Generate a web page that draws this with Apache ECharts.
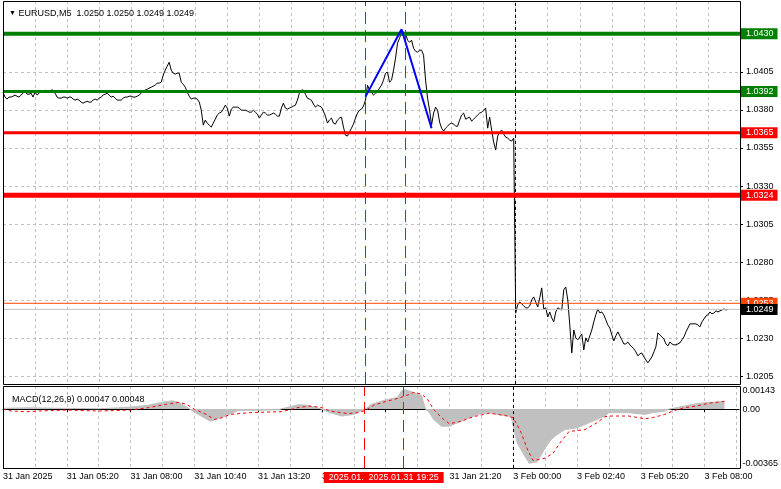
<!DOCTYPE html>
<html><head><meta charset="utf-8">
<script src="https://cdn.jsdelivr.net/npm/echarts@6/dist/echarts.min.js"></script>
<style>html,body{margin:0;padding:0;background:#fff}#c{width:781px;height:489px}</style>
</head><body><div id="c"></div>
<script>
// ---------- DATA ----------
const closePrices = [
1.03916,1.03884,1.03871,1.03884,1.03884,1.03890,1.03897,1.03890,1.03884,1.03897,
1.03910,1.03923,1.03903,1.03903,1.03910,1.03884,1.03916,1.03897,1.03910,1.03923,
1.03916,1.03930,1.03923,1.03923,1.03930,1.03930,1.03910,1.03884,1.03877,1.03877,
1.03884,1.03884,1.03877,1.03884,1.03884,1.03871,1.03864,1.03871,1.03864,1.03851,
1.03844,1.03851,1.03857,1.03851,1.03851,1.03864,1.03871,1.03864,1.03877,1.03884,
1.03897,1.03903,1.03910,1.03897,1.03884,1.03890,1.03877,1.03864,1.03864,1.03864,
1.03877,1.03884,1.03884,1.03890,1.03890,1.03884,1.03884,1.03890,1.03897,1.03910,
1.03923,1.03930,1.03936,1.03943,1.03949,1.03956,1.03962,1.03976,1.03976,1.03982,
1.04028,1.04061,1.04087,1.04113,1.04061,1.04041,1.04035,1.04041,1.04041,1.03982,
1.03969,1.03949,1.03916,1.03890,1.03871,1.03877,1.03877,1.03871,1.03851,1.03798,
1.03700,1.03733,1.03713,1.03700,1.03687,1.03713,1.03739,1.03766,1.03779,1.03785,
1.03805,1.03831,1.03812,1.03759,1.03805,1.03818,1.03818,1.03818,1.03812,1.03798,
1.03798,1.03798,1.03792,1.03785,1.03785,1.03798,1.03785,1.03772,1.03746,1.03766,
1.03785,1.03779,1.03766,1.03766,1.03772,1.03779,1.03772,1.03759,1.03759,1.03812,
1.03844,1.03812,1.03805,1.03812,1.03818,1.03825,1.03831,1.03864,1.03910,1.03930,
1.03930,1.03903,1.03877,1.03871,1.03864,1.03838,1.03818,1.03831,1.03825,1.03818,
1.03792,1.03759,1.03713,1.03733,1.03746,1.03713,1.03707,1.03733,1.03746,1.03752,
1.03687,1.03634,1.03628,1.03654,1.03680,1.03707,1.03746,1.03779,1.03798,1.03805,
1.03825,1.03864,1.03962,1.03930,1.03916,1.03897,1.03910,1.03916,1.03943,1.03962,
1.03995,1.04041,1.04048,1.03982,1.03995,1.04061,1.04140,1.04238,1.04271,1.04310,
1.04310,1.04304,1.04258,1.04244,1.04258,1.04205,1.04185,1.04179,1.04192,1.04192,
1.04159,1.03995,1.03877,1.03798,1.03700,1.03779,1.03818,1.03798,1.03720,1.03680,
1.03661,1.03680,1.03693,1.03707,1.03713,1.03707,1.03693,1.03693,1.03733,1.03766,
1.03779,1.03739,1.03746,1.03752,1.03726,1.03739,1.03752,1.03766,1.03779,1.03785,
1.03798,1.03812,1.03680,1.03752,1.03667,1.03588,1.03536,1.03628,1.03654,1.03667,
1.03641,1.03621,1.03615,1.03602,1.03595,1.03615,
1.02467,1.02519,1.02539,1.02526,
1.02513,1.02500,1.02500,1.02513,1.02552,1.02572,1.02539,1.02506,1.02565,1.02631,
1.02493,1.02500,1.02440,1.02473,1.02434,1.02408,1.02473,1.02500,1.02493,1.02486,
1.02618,1.02637,1.02552,1.02388,1.02204,1.02355,1.02303,1.02290,1.02309,1.02329,
1.02224,1.02303,1.02276,1.02316,1.02355,1.02408,1.02454,1.02493,1.02467,1.02473,
1.02454,1.02421,1.02388,1.02368,1.02322,1.02283,1.02316,1.02342,1.02316,1.02290,
1.02263,1.02263,1.02276,1.02257,1.02244,1.02231,1.02211,1.02185,1.02198,1.02204,
1.02178,1.02158,1.02139,1.02158,1.02178,1.02211,1.02244,1.02336,1.02322,1.02309,
1.02296,1.02263,1.02250,1.02276,1.02263,1.02257,1.02257,1.02263,1.02270,1.02290,
1.02309,1.02342,1.02368,1.02395,1.02395,1.02395,1.02395,1.02388,1.02375,1.02408,
1.02427,1.02447,1.02454,1.02473,1.02460,1.02467,1.02480,1.02473,1.02480,1.02486,
1.02493,1.02486,1.02490
];
// MACD main (histogram) as [barIndex, value]
const macdMain = [[0,0.00005],[13,0.00008],[28,0.00005],[48,0.00002],[63,0.00011],[73,0.00024],[80,0.00043],[85,0.00051],[88,0.00043],[93,0.00005],[98,-0.00033],[104,-0.00075],[110,-0.00051],[118,-0.00008],[128,-0.00008],[138,-0.00004],[148,0.00027],[153,0.00024],[160,-0.00001],[163,-0.00018],[170,-0.00043],[176,-0.00033],[182,0.00003],[185,0.00030],[192,0.00057],[198,0.00072],[200,0.00113],[202,0.00120],[206,0.00103],[210,0.00082],[212,-0.00001],[214,-0.00022],[216,-0.00064],[220,-0.00106],[224,-0.00106],[228,-0.00085],[233,-0.00060],[238,-0.00033],[244,-0.00022],[252,-0.00043],[255,-0.00045],[256,-0.00108],[258,-0.00210],[262,-0.00296],[264,-0.00335],[268,-0.00327],[272,-0.00241],[275,-0.00189],[278,-0.00158],[282,-0.00127],[288,-0.00116],[294,-0.00085],[302,-0.00043],[304,-0.00022],[314,-0.00022],[322,-0.00033],[326,-0.00022],[332,-0.00012],[334,-0.00001],[342,0.00019],[348,0.00034],[354,0.00041],[362,0.00047]];
// MACD signal as [barIndex, value]
const macdSignal = [[0,-0.00001],[4,-0.00012],[12,-0.00016],[18,-0.00012],[32,-0.00006],[48,-0.00012],[64,-0.00006],[73,0.00009],[82,0.00030],[88,0.00041],[92,0.00030],[96,-0.00001],[102,-0.00033],[106,-0.00064],[110,-0.00053],[114,-0.00033],[124,-0.00022],[140,-0.00016],[148,0.00009],[154,0.00019],[160,0.00009],[164,-0.00012],[173,-0.00028],[178,-0.00022],[182,-0.00008],[186,0.00024],[192,0.00047],[198,0.00066],[202,0.00082],[206,0.00103],[210,0.00093],[213,0.00061],[216,-0.00001],[220,-0.00053],[224,-0.00091],[230,-0.00075],[236,-0.00047],[244,-0.00026],[252,-0.00039],[256,-0.00053],[260,-0.00147],[263,-0.00246],[266,-0.00319],[272,-0.00304],[276,-0.00273],[280,-0.00200],[284,-0.00139],[292,-0.00127],[298,-0.00085],[302,-0.00047],[304,-0.00043],[314,-0.00043],[322,-0.00060],[326,-0.00053],[332,-0.00033],[336,-0.00012],[342,0.00009],[348,0.00019],[354,0.00036],[362,0.00048]];
const priceTicks = [1.0205,1.0230,1.0255,1.0280,1.0305,1.0330,1.0355,1.0380,1.0405,1.0430];
const macdTicks = [-0.00365,0,0.00143];
const levelPrices = [1.0430,1.0392,1.0365,1.0324,1.0253];
const bidPrice = 1.0249;
const zigzag = [[181,1.03887],[199,1.04329],[214,1.03679]];
const markerTimes = ['2025.01.31 17:45','2025.01.31 19:25'];
const separatorTime = '2025.02.03 00:00';
const symbolTitle = 'EURUSD,M5  1.0250 1.0250 1.0249 1.0249';
const macdTitle = 'MACD(12,26,9) 0.00047 0.00048';

// ---------- CATEGORIES (5-minute bars) ----------
const categories = [];
function pad(n){return (n<10?'0':'')+n;}
function addDay(d, from, to){for(let m=from;m<=to;m+=5)categories.push(d+' '+pad(Math.floor(m/60))+':'+pad(m%60));}
addDay('2025.01.31', 160, 1435);
addDay('2025.02.03', 0, 560);
const months = {'01':'Jan','02':'Feb'};
function fmtTime(v, idx){
  const p=v.split(' '), d=p[0].split('.');
  return parseInt(d[2],10)+' '+months[d[1]]+' '+(idx===0?d[0]:p[1]);
}
const lastIdx = categories.length-1;

// ---------- STYLE ----------
const FONT = '"Liberation Sans", Arial, sans-serif';
const FS = 9;
const G0 = {left:3, top:1, width:737, height:383};
const G1 = {left:3, top:386, width:737, height:82};
const gridDash = {color:'#c0c0c0', type:[3,3], width:1};
const levelStyles = [
  {color:'#008000', width:4},
  {color:'#008000', width:3},
  {color:'#ff0000', width:3},
  {color:'#ff0000', width:5},
  {color:'#ff4500', width:1}
];
function endBox(bg, txt){
  return {show:true, formatter:txt, distance:1, color:'#fff', backgroundColor:bg,
    padding:[1,4,0,5], fontSize:FS, fontFamily:FONT, lineHeight:10};
}
const redDash = {color:'#ff0000', type:[12,6], width:1};
const sepDash = {color:'#000000', type:[3,3], width:1};

function levelSeries(p, style, bg){
  return {type:'line', xAxisIndex:0, yAxisIndex:0, silent:true, symbol:'none', z:5,
    data:[[0,p],[lastIdx,p]], lineStyle:Object.assign({type:'solid'}, style), itemStyle:{color:style.color},
    endLabel:endBox(bg, p.toFixed(4)), emphasis:{disabled:true}};
}

const series = [
  {name:'price', type:'line', xAxisIndex:0, yAxisIndex:0, data:closePrices, symbol:'none',
   lineStyle:{color:'#000', width:1}, itemStyle:{color:'#000'}, z:3,
   markLine:{silent:true, symbol:['none','none'], animation:false,
     data: markerTimes.map(t=>({xAxis:t, lineStyle:redDash, label:{show:false}}))
       .concat([{xAxis:separatorTime, lineStyle:sepDash, label:{show:false}}])}},
  {name:'macd', type:'line', xAxisIndex:1, yAxisIndex:1, data:macdMain, symbol:'none',
   lineStyle:{color:'#c0c0c0', width:1}, itemStyle:{color:'#c0c0c0'},
   areaStyle:{color:'#c0c0c0', opacity:1, origin:'auto'}, z:2},
  {name:'signal', type:'line', xAxisIndex:1, yAxisIndex:1, data:macdSignal, symbol:'none',
   lineStyle:{color:'#ff0000', width:1, type:[3,3]}, itemStyle:{color:'#ff0000'}, z:3,
   markLine:{silent:true, symbol:['none','none'], animation:false,
     data: markerTimes.map(t=>({xAxis:t, lineStyle:redDash,
         label:{show:true, position:'start', distance:4, formatter:t, color:'#fff', backgroundColor:'#ff0000',
                padding:[1,5,0,5], fontSize:FS, fontFamily:FONT, lineHeight:10}}))
       .concat([{xAxis:separatorTime, lineStyle:sepDash, label:{show:false}}])}}
];
levelPrices.forEach((p,i)=>series.push(levelSeries(p, levelStyles[i], levelStyles[i].color)));
series.push(levelSeries(bidPrice, {color:'#c0c0c0', width:1}, '#000000'));
series.push({name:'zigzag', type:'line', xAxisIndex:0, yAxisIndex:0, data:zigzag, symbol:'none',
   lineStyle:{color:'#0000ff', width:2}, itemStyle:{color:'#0000ff'}, z:6});

const chart = echarts.init(document.getElementById('c'), null, {renderer:'canvas'});
chart.setOption({
  animation:false,
  backgroundColor:'#ffffff',
  title:[
    {text:'{t|▼} '+symbolTitle, left:4, top:4, textStyle:{fontSize:FS, fontWeight:'normal', color:'#000', fontFamily:FONT, rich:{t:{fontSize:7, color:'#000'}}}},
    {text:macdTitle, left:7, top:390, textStyle:{fontSize:FS, fontWeight:'normal', color:'#000', fontFamily:FONT}}
  ],
  grid:[
    Object.assign({show:false}, G0),
    Object.assign({show:false}, G1)
  ],
  xAxis:[
    {gridIndex:0, type:'category', data:categories, boundaryGap:false,
     axisLine:{show:false}, axisTick:{show:false}, axisLabel:{show:false},
     splitLine:{show:true, interval:15, lineStyle:gridDash}},
    {gridIndex:1, type:'category', data:categories, boundaryGap:false,
     axisLine:{show:true, lineStyle:{color:'#000'}},
     axisTick:{show:true, interval:31, length:3, lineStyle:{color:'#000'}},
     axisLabel:{show:true, interval:31, align:'left', margin:4, color:'#000', fontSize:FS, fontFamily:FONT, formatter:fmtTime},
     splitLine:{show:true, interval:15, lineStyle:gridDash}}
  ],
  yAxis:[
    {gridIndex:0, type:'value', position:'right', min:1.0200, max:1.04515,
     axisLine:{show:false},
     axisTick:{show:true, length:3, customValues:priceTicks, lineStyle:{color:'#000'}},
     axisLabel:{show:true, customValues:priceTicks, margin:6, color:'#000', fontSize:FS, fontFamily:FONT, formatter:v=>v.toFixed(4)},
     splitLine:{show:true, lineStyle:gridDash}},
    {gridIndex:1, type:'value', position:'right', min:-0.00365, max:0.00143,
     axisLine:{show:false},
     axisTick:{show:true, length:3, customValues:macdTicks, lineStyle:{color:'#000'}},
     axisLabel:{show:true, customValues:macdTicks, margin:6, color:'#000', fontSize:FS, fontFamily:FONT,
       verticalAlignMinLabel:'bottom', verticalAlignMaxLabel:'top',
       formatter:v=> v===0 ? '0.00' : v.toFixed(5)},
     splitLine:{show:true, lineStyle:{color:['#000','#c0c0c0','#000'], type:[3,3], width:1}}}
  ],
  series: series,
  graphic:[
    {type:'rect', z:100, silent:true, shape:{x:G0.left+0.5, y:G0.top+0.5, width:G0.width, height:G0.height}, style:{fill:null, stroke:'#000', lineWidth:1}},
    {type:'rect', z:100, silent:true, shape:{x:G1.left+0.5, y:G1.top+0.5, width:G1.width, height:G1.height}, style:{fill:null, stroke:'#000', lineWidth:1}}
  ]
});
</script></body></html>
